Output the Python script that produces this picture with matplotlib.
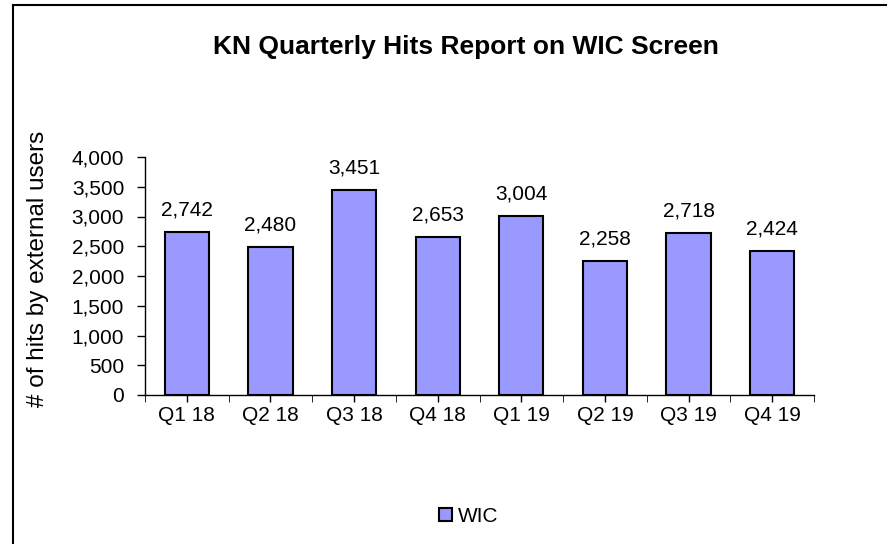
import matplotlib
matplotlib.use("Agg")
import matplotlib.pyplot as plt
from matplotlib.lines import Line2D
from matplotlib.ticker import FuncFormatter, MultipleLocator

quarters = ["Q1 18", "Q2 18", "Q3 18", "Q4 18", "Q1 19", "Q2 19", "Q3 19", "Q4 19"]
hits = [2742, 2480, 3451, 2653, 3004, 2258, 2718, 2424]

plt.rcParams['font.family'] = ['Liberation Sans', 'DejaVu Sans']

W, H = 890, 544
fig = plt.figure(figsize=(W / 100, H / 100), dpi=100)
ax = fig.add_axes([145 / W, 1 - 395 / H, (814 - 145) / W, (395 - 157) / H])

x = list(range(len(quarters)))
bars = ax.bar(x, hits, width=0.53, color="#9999FF", edgecolor="black", linewidth=1.5, label="WIC")

for b, v in zip(bars, hits):
    ax.annotate(f"{v:,}", (b.get_x() + b.get_width() / 2, v), xytext=(0, 9),
                textcoords="offset points", ha="center", va="bottom", fontsize=15)

ax.set_xlim(-0.5, len(quarters) - 0.5)
ax.set_ylim(0, 4000)
ax.yaxis.set_major_locator(MultipleLocator(500))
ax.yaxis.set_major_formatter(FuncFormatter(lambda v, p: f"{int(v):,}"))
ax.set_xticks(x)
ax.set_xticklabels(quarters)
ax.set_xticks([i - 0.5 for i in range(len(quarters) + 1)], minor=True)
ax.tick_params(axis="both", labelsize=15, direction="out", width=1, color="black")
ax.tick_params(axis="x", which="major", length=5, pad=3)
ax.tick_params(axis="x", which="minor", length=5)
ax.tick_params(axis="y", length=6, pad=9)
for s in ["top", "right"]:
    ax.spines[s].set_visible(False)
ax.spines["left"].set_linewidth(1)
ax.spines["bottom"].set_linewidth(1)

fig.text(38 / W, 1 - 269 / H, "# of hits by external users", rotation=90,
         ha="center", va="center", fontsize=17.5)

fig.text(466 / W, 1 - 47 / H, "KN Quarterly Hits Report on WIC Screen",
         ha="center", va="center", fontsize=19, fontweight="bold")

fig.legend(handles=[bars], labels=["WIC"], loc="center", bbox_to_anchor=(469 / W, 1 - 516 / H),
           frameon=False, fontsize=15, handlelength=0.6, handleheight=0.6, handletextpad=0.3)

# chart frame (left and top edges visible)
fig.add_artist(Line2D([12.5 / W, 12.5 / W], [0, 1 - 5 / H], color="black", linewidth=1.5))
fig.add_artist(Line2D([12.5 / W, 886 / W], [1 - 5 / H, 1 - 5 / H], color="black", linewidth=1.5))

fig.savefig("out.png", dpi=100)
